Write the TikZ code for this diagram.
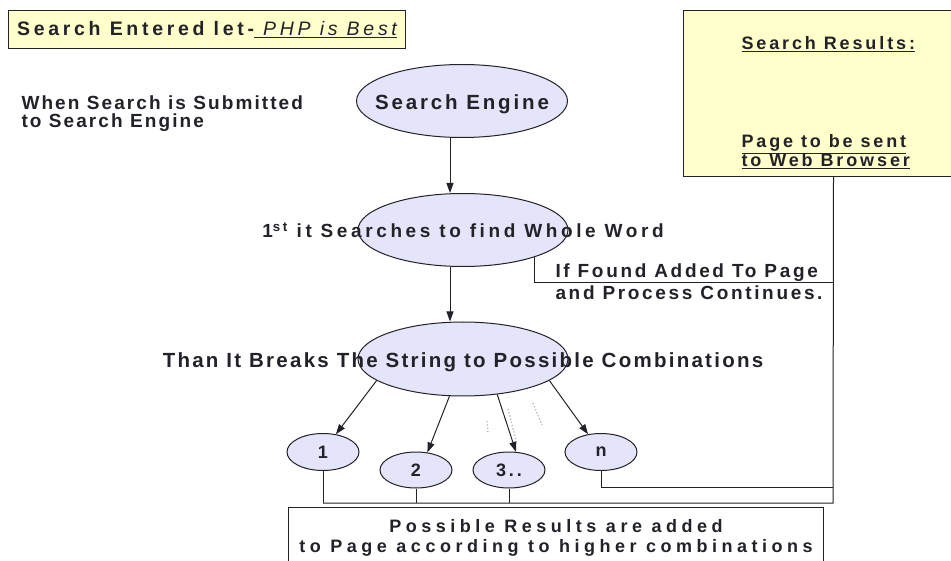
\documentclass[tikz,border=0pt]{standalone}
\usepackage{fontspec}
\setmainfont{Liberation Sans}
\usetikzlibrary{shapes.geometric,arrows.meta,positioning}

\definecolor{note}{RGB}{255,255,204}
\definecolor{lav}{RGB}{228,228,250}
\definecolor{ink}{RGB}{34,34,40}

\newcommand\bigtxt{\fontsize{20.5}{23}\selectfont\bfseries\addfontfeature{LetterSpace=11}}
\newcommand\sidetxt{\fontsize{19}{22}\selectfont\bfseries\addfontfeature{LetterSpace=14}}
\newcommand\headtxt{\fontsize{19.5}{22}\selectfont\bfseries\addfontfeature{LetterSpace=19}}
\newcommand\lowtxt{\fontsize{18}{20}\selectfont\bfseries\addfontfeature{LetterSpace=25}}
\newcommand\restxt{\fontsize{18}{19}\selectfont\bfseries\addfontfeature{LetterSpace=16}}

\begin{document}
\begin{tikzpicture}[x=1pt,y=-1pt,
  oval/.style={ellipse, draw=ink, fill=lav, line width=1pt, inner sep=0pt},
  word/.style={text=ink, font=\bigtxt},
  side/.style={text=ink, font=\sidetxt, align=left},
  box/.style={draw=ink, line width=1pt, anchor=north west, inner sep=0pt},
  arr/.style={draw=ink, line width=1pt, -{Triangle[length=10pt,width=7pt]}},
  wire/.style={draw=ink, line width=1pt},
  dots/.style={gray!55, dotted, line width=1.3pt}]
\useasboundingbox (0,0) rectangle (951,561);

% notes at the top
\node[box, fill=note, minimum width=397, minimum height=38, text=ink, font=\headtxt] (head) at (8,10)
  {Search Entered let-\underline{\mdseries\itshape\ PHP is Best}};
\node[side, anchor=base west, font=\fontsize{19}{18}\selectfont\bfseries\addfontfeature{LetterSpace=11}] (when) at (18,128)
  {When Search is Submitted\\to Search Engine};
\node[box, fill=note, minimum width=300, minimum height=166] (res) at (683,10) {};
\node[side, anchor=base west, font=\restxt] (res1) at (738,50) {\underline{Search Results:}};
\node[side, anchor=base west, font=\restxt] (res2) at (738,167)
  {\underline{Page to be sent}\\\underline{to Web Browser}};

% the three steps
\node[oval, minimum width=211, minimum height=73,
  label={[word,yshift=-3,font=\bigtxt\addfontfeature{LetterSpace=14}]center:Search Engine}] (eng) at (462,101) {};
\node[oval, minimum width=210, minimum height=73,
  label={[word,font=\sidetxt\addfontfeature{LetterSpace=19}]center:1\textsuperscript{st} it Searches to find Whole Word}] (whole) at (463,230) {};
\node[oval, minimum width=210, minimum height=74,
  label={[word,yshift=-3]center:Than It Breaks The String to Possible Combinations}] (brk) at (463,359) {};
\node[side, anchor=base west] (found) at (552,300) {If Found Added To Page\\and Process Continues.};

% combinations
\node[oval, minimum width=72, minimum height=37, text=ink, font=\restxt] (c1) at (323,452) {1};
\node[oval, minimum width=72, minimum height=36, text=ink, font=\restxt] (c2) at (416,470) {2};
\node[oval, minimum width=72, minimum height=36, text=ink, font=\restxt] (c3) at (509,470) {3..};
\node[oval, minimum width=72, minimum height=37, text=ink, font=\restxt] (cn) at (601,452) {n};
\node[box, fill=white, minimum width=535, minimum height=60, align=center, text=ink, font=\lowtxt] (sum) at (288,507)
  {Possible Results are added\\to Page according to higher combinations};

\coordinate (j1) at (833,283);
\coordinate (j2) at (833,487);
\coordinate (j3) at (833,503);

\draw[arr] ([xshift=-12]eng.south) -- ([xshift=-13]whole.north);
\draw[arr] ([xshift=-13]whole.south) -- ([xshift=-13]brk.north);
\draw[wire] (whole.339) |- (j1);
\draw[arr] (brk.194) -- (c1.54);
\draw[arr] (brk.250) -- (c2.57);
\draw[arr] (brk.314) -- (c3.69);
\draw[arr] (brk.346) -- (cn.126);
\draw[dots] (487,421) -- (488,433);
\draw[dots] (508,409) -- (516,440);
\draw[dots] (533,403) -- (542,425);
\draw[wire] (c1.south) -- (c1.south |- j3);
\draw[wire] (c2.south) -- (c2.south |- j3);
\draw[wire] (c3.south) -- (c3.south |- j3);
\draw[wire] (cn.south) |- (j2);
\draw[wire] (res.south) -- (j3) -- (c1.south |- j3);
\end{tikzpicture}
\end{document}
